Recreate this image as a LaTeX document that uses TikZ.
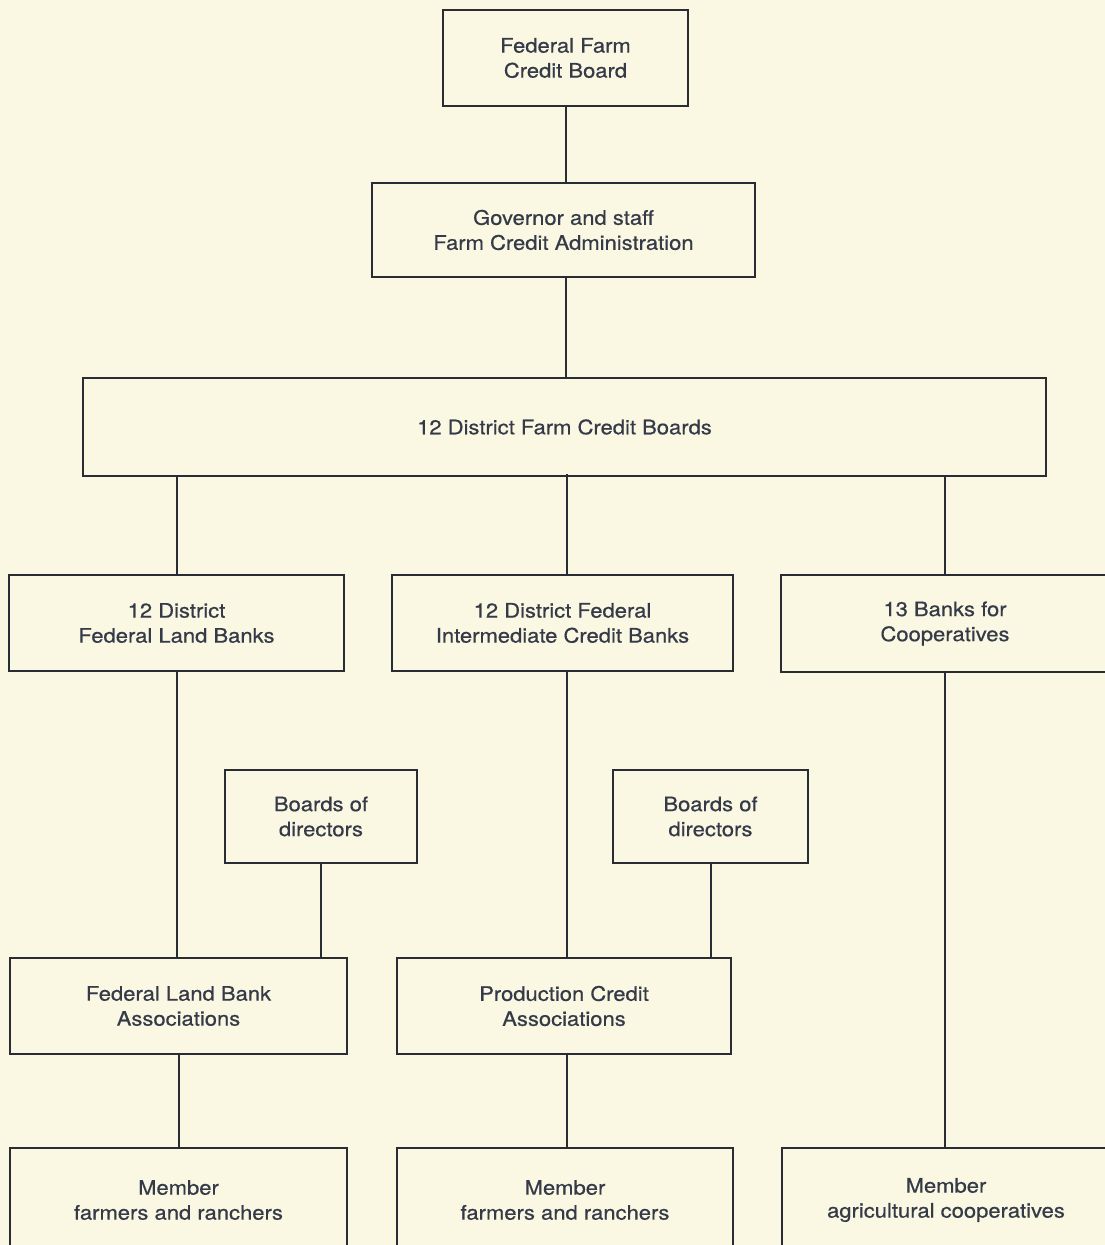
\documentclass[tikz,border=0pt]{standalone}
\usepackage{fontspec}
\setmainfont{TeX Gyre Heros}[FakeStretch=1.1]
\definecolor{paper}{HTML}{FAF7E2}
\definecolor{ink}{HTML}{2A2C33}
\definecolor{txt}{HTML}{343A47}
\begin{document}
\begin{tikzpicture}[x=0.75pt, y=-0.75pt, line width=1.5pt, ink,
  box/.style={draw=ink, fill=paper, align=center, text=txt, inner sep=0pt,
    font=\fontsize{15}{18.75}\selectfont\addfontfeature{FakeBold=0.5}},
  wh/.style 2 args={minimum width={#1*0.75pt}, minimum height={#2*0.75pt}}]
\fill[paper] (0,0) rectangle (1105,1245);
\useasboundingbox (0,0) rectangle (1105,1245);
% top of the chart
\node[box, wh={245}{96}] (ffcb) at (565.5,58) {Federal Farm\\Credit Board};
\node[box, wh={383}{94}] (gov) at (563.5,230) {Governor and staff\\Farm Credit Administration};
\node[box, wh={963}{98}] (dfcb) at (564.5,427) {12 District Farm Credit Boards};
% district banks
\node[box, wh={335}{96}] (flb) at (176.5,623) {12 District\\Federal Land Banks};
\node[box, wh={341}{96}] (ficb) at (562.5,623) {12 District Federal\\Intermediate Credit Banks};
\node[box, wh={328}{97}] (bc) at (945,623.5) {13 Banks for\\Cooperatives};
\node[box, wh={192}{93}] (lbod) at (321,816.5) {Boards of\\directors};
\node[box, wh={195}{93}] (rbod) at (710.5,816.5) {Boards of\\directors};
% associations and members
\node[box, wh={337}{96}] (flba) at (178.5,1006) {Federal Land Bank\\Associations};
\node[box, wh={334}{96}] (pca) at (564,1006) {Production Credit\\Associations};
\node[box, wh={337}{104}] (mfr1) at (178.5,1200) {Member\\farmers and ranchers};
\node[box, wh={336}{104}] (mfr2) at (565,1200) {Member\\farmers and ranchers};
\node[box, wh={328}{104}] (mac) at (946,1200) {Member\\agricultural cooperatives};
\draw (ffcb.south) -- (ffcb.south |- gov.north);
\draw (ffcb.south |- gov.south) -- (ffcb.south |- dfcb.north);
\draw (flb.north |- dfcb.south) -- (flb.north);
\draw (ficb.north -| 567,0) ++(0,-100) -- (ficb.north -| 567,0);
\draw (bc.north |- dfcb.south) -- (bc.north);
\draw (flb.south) -- (flb.south |- flba.north);
\draw (lbod.south) -- (lbod.south |- flba.north);
\draw (ficb.south -| 567,0) -- (pca.north -| 567,0);
\draw (rbod.south) -- (rbod.south |- pca.north);
\draw (bc.south) -- (bc.south |- mac.north);
\draw (flba.south) -- (flba.south |- mfr1.north);
\draw (pca.south -| 567,0) -- (mfr2.north -| 567,0);
\end{tikzpicture}
\end{document}
